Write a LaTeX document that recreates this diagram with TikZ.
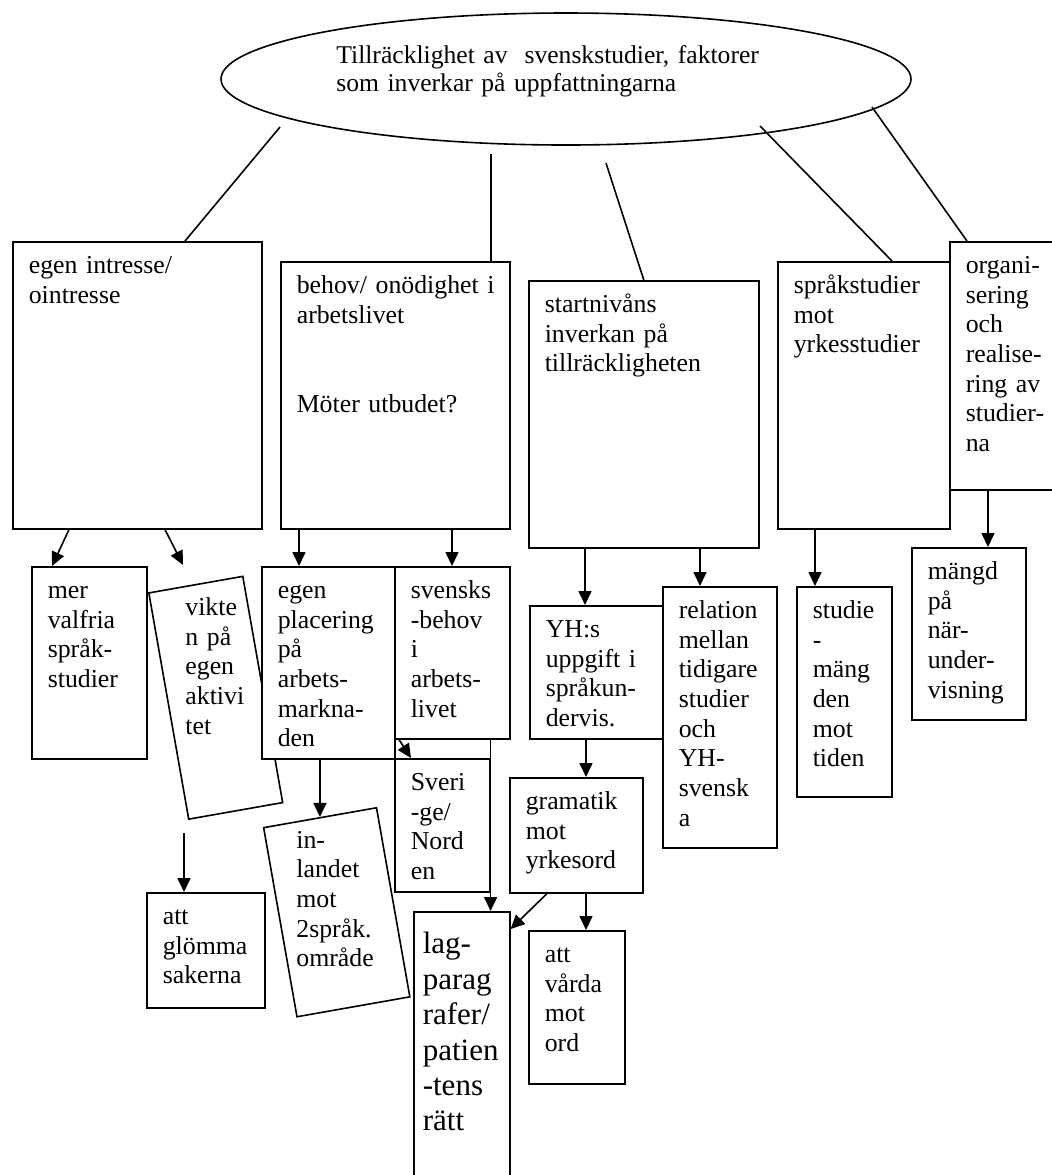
\documentclass[tikz,border=0pt]{standalone}
\usepackage{fontspec}
\setmainfont{Liberation Serif}
\usetikzlibrary{arrows.meta,shapes.geometric}
\newcommand\boxfont{\fontsize{12.9pt}{14.85pt}\selectfont}
\newcommand\bigboxfont{\fontsize{15.5pt}{17.7pt}\selectfont}
\hyphenpenalty=10000
\exhyphenpenalty=10000
\begin{document}
\begin{tikzpicture}[x=0.5pt,y=-0.5pt,font=\boxfont,
    >={Triangle[length=7pt,width=6.5pt]},
    cell/.style 2 args={draw,thick,fill=white,anchor=north west,align=left,
      inner sep=0pt,text width=#1*0.5pt,execute at begin node={\leftskip=8pt},
      text height=15.8pt,text depth=#2*0.5pt-15.8pt},
    tilted/.style 2 args={draw,thick,fill=white,rotate=10,inner sep=0pt,
      minimum width=#1*0.5pt,minimum height=#2*0.5pt},
    txt/.style={anchor=north west,align=left,inner sep=0pt,text height=15.8pt,text width=#1*0.5pt}]
        \useasboundingbox (0,0) rectangle (1052,1175);
        % top ellipse
        \node[draw,thick,ellipse,minimum width=345pt,minimum height=66pt,inner sep=0pt] (ell) at (566,79) {};
        \node[txt=480,font=\fontsize{12.8pt}{14pt}\selectfont] (elltxt) at (336,31) {Tillräcklighet av~~svenskstudier, faktorer\\som inverkar på uppfattningarna};
        % first row
        \node[cell={249}{287}] (b1) at (12,241) {egen intresse/\\ointresse};
        \node[cell={229}{267}] (b2) at (280,261) {behov/ onödighet i\\arbetslivet\\[30pt]Möter utbudet?};
        \node[cell={230}{267}] (b3) at (528,280) {startnivåns\\inverkan på\\tillräckligheten};
        \node[cell={172}{267}] (b4) at (777,261) {språkstudier\\mot\\yrkesstudier};
        \node[cell={110}{248}] (b5) at (949,241) {organi-\\sering\\och\\realise-\\ring av\\studier-\\na};
        % second row
        \node[cell={115}{192}] (c1) at (31,566) {mer\\valfria\\språk-\\studier};
        \node[tilted={95.4}{229.7}] (c2) at (215.75,697.75) {};
        \node[txt=100] (c2txt) at (185,583.4) {vikte\\n på\\egen\\aktivi\\tet};
        \node[cell={133}{192}] (c3) at (261,566) {egen\\placering\\på\\arbets-\\markna-\\den};
        \node[cell={115}{172}] (c4) at (394,566) {svensks\\-behov\\i\\arbets-\\livet};
        \node[cell={95}{133}] (c5) at (394,758) {Sveri\\-ge/\\Nord\\en};
        \node[tilted={114.6}{192}] (c6) at (336.75,912.25) {};
        \node[txt=100] (c6txt) at (296,816) {in-\\landet\\mot\\2språk.\\område};
        \node[cell={118}{115}] (c7) at (146,892) {att\\glömma\\sakerna};
        \node[cell={133}{133}] (d1) at (529,605) {YH:s\\uppgift i\\språkun-\\dervis.};
        \node[cell={114}{261}] (d2) at (662,586) {relation\\mellan\\tidigare\\studier\\och\\YH-\\svensk\\a};
        \node[cell={95}{210}] (d3) at (796,586) {studie\\-\\mäng\\den\\mot\\tiden};
        \node[cell={114}{172}] (d4) at (911,547) {mängd\\på\\när-\\under-\\visning};
        \node[cell={133}{115}] (d5) at (509,777) {gramatik\\mot\\yrkesord};
        \node[cell={96}{153}] (d6) at (528,930) {att\\vårda\\mot\\ord};
        \node[cell={96}{275},font=\bigboxfont,text height=21pt,text depth=116.5pt,
          execute at begin node={\leftskip=4.5pt}] (d7) at (413,911) {lag-\\parag\\rafer/\\patien\\-tens\\rätt};
        % lines from the ellipse
        \coordinate (e1) at (280,127);
        \coordinate (e2) at (491,154);
        \coordinate (e3) at (606,163);
        \coordinate (e4) at (760,126);
        \coordinate (e5) at (872,107);
        \draw[thick] (e1) -- ([xshift=86.5pt]b1.north west);
        \draw[thick] (e2) -- (e2 |- b2.north);
        \draw[thick] (e3) -- (b3.north);
        \draw[thick] (e4) -- ([xshift=57.5pt]b4.north west);
        \draw[thick] (e5) -- ([xshift=9pt]b5.north west);
        % arrows
        \coordinate (v1) at (183,565);
        \coordinate (v2) at (184,833);
        \draw[thick,->] ([xshift=28.5pt]b1.south west) -- ([xshift=10.5pt]c1.north west);
        \draw[thick,->] ([xshift=76.5pt]b1.south west) -- (v1);
        \draw[thick,->] ([xshift=9.5pt]b2.south west) -- ([xshift=9.5pt]b2.south west |- c3.north);
        \draw[thick,->] ([xshift=86pt]b2.south west) -- ([xshift=86pt]b2.south west |- c4.north);
        \draw[thick,->] ([xshift=28.5pt]b3.south west) -- ([xshift=28.5pt]b3.south west |- d1.north);
        \draw[thick,->] ([xshift=86pt]b3.south west) -- ([xshift=86pt]b3.south west |- d2.north);
        \draw[thick,->] ([xshift=19pt]b4.south west) -- ([xshift=19pt]b4.south west |- d3.north);
        \draw[thick,->] ([xshift=19.5pt]b5.south west) -- ([xshift=19.5pt]b5.south west |- d4.north);
        \draw[thick,->] ([xshift=2.5pt]c4.south west) -- ([xshift=8.5pt]c5.north west);
        \draw[thick,->] ([xshift=-10pt]c4.south east) -- ([xshift=-10pt]c4.south east |- d7.north);
        \draw[thick,->] (c6.north |- c3.south) -- (c6.north);
        \draw[thick,->] (v2) -- (v2 |- c7.north);
        \draw[thick,->] ([xshift=28.5pt]d1.south west) -- ([xshift=28.5pt]d1.south west |- d5.north);
        \draw[thick,->] ([xshift=19pt]d5.south west) -- ([yshift=-9pt]d7.north east);
        \draw[thick,->] ([xshift=38.5pt]d5.south west) -- ([xshift=38.5pt]d5.south west |- d6.north);
\end{tikzpicture}
\end{document}
